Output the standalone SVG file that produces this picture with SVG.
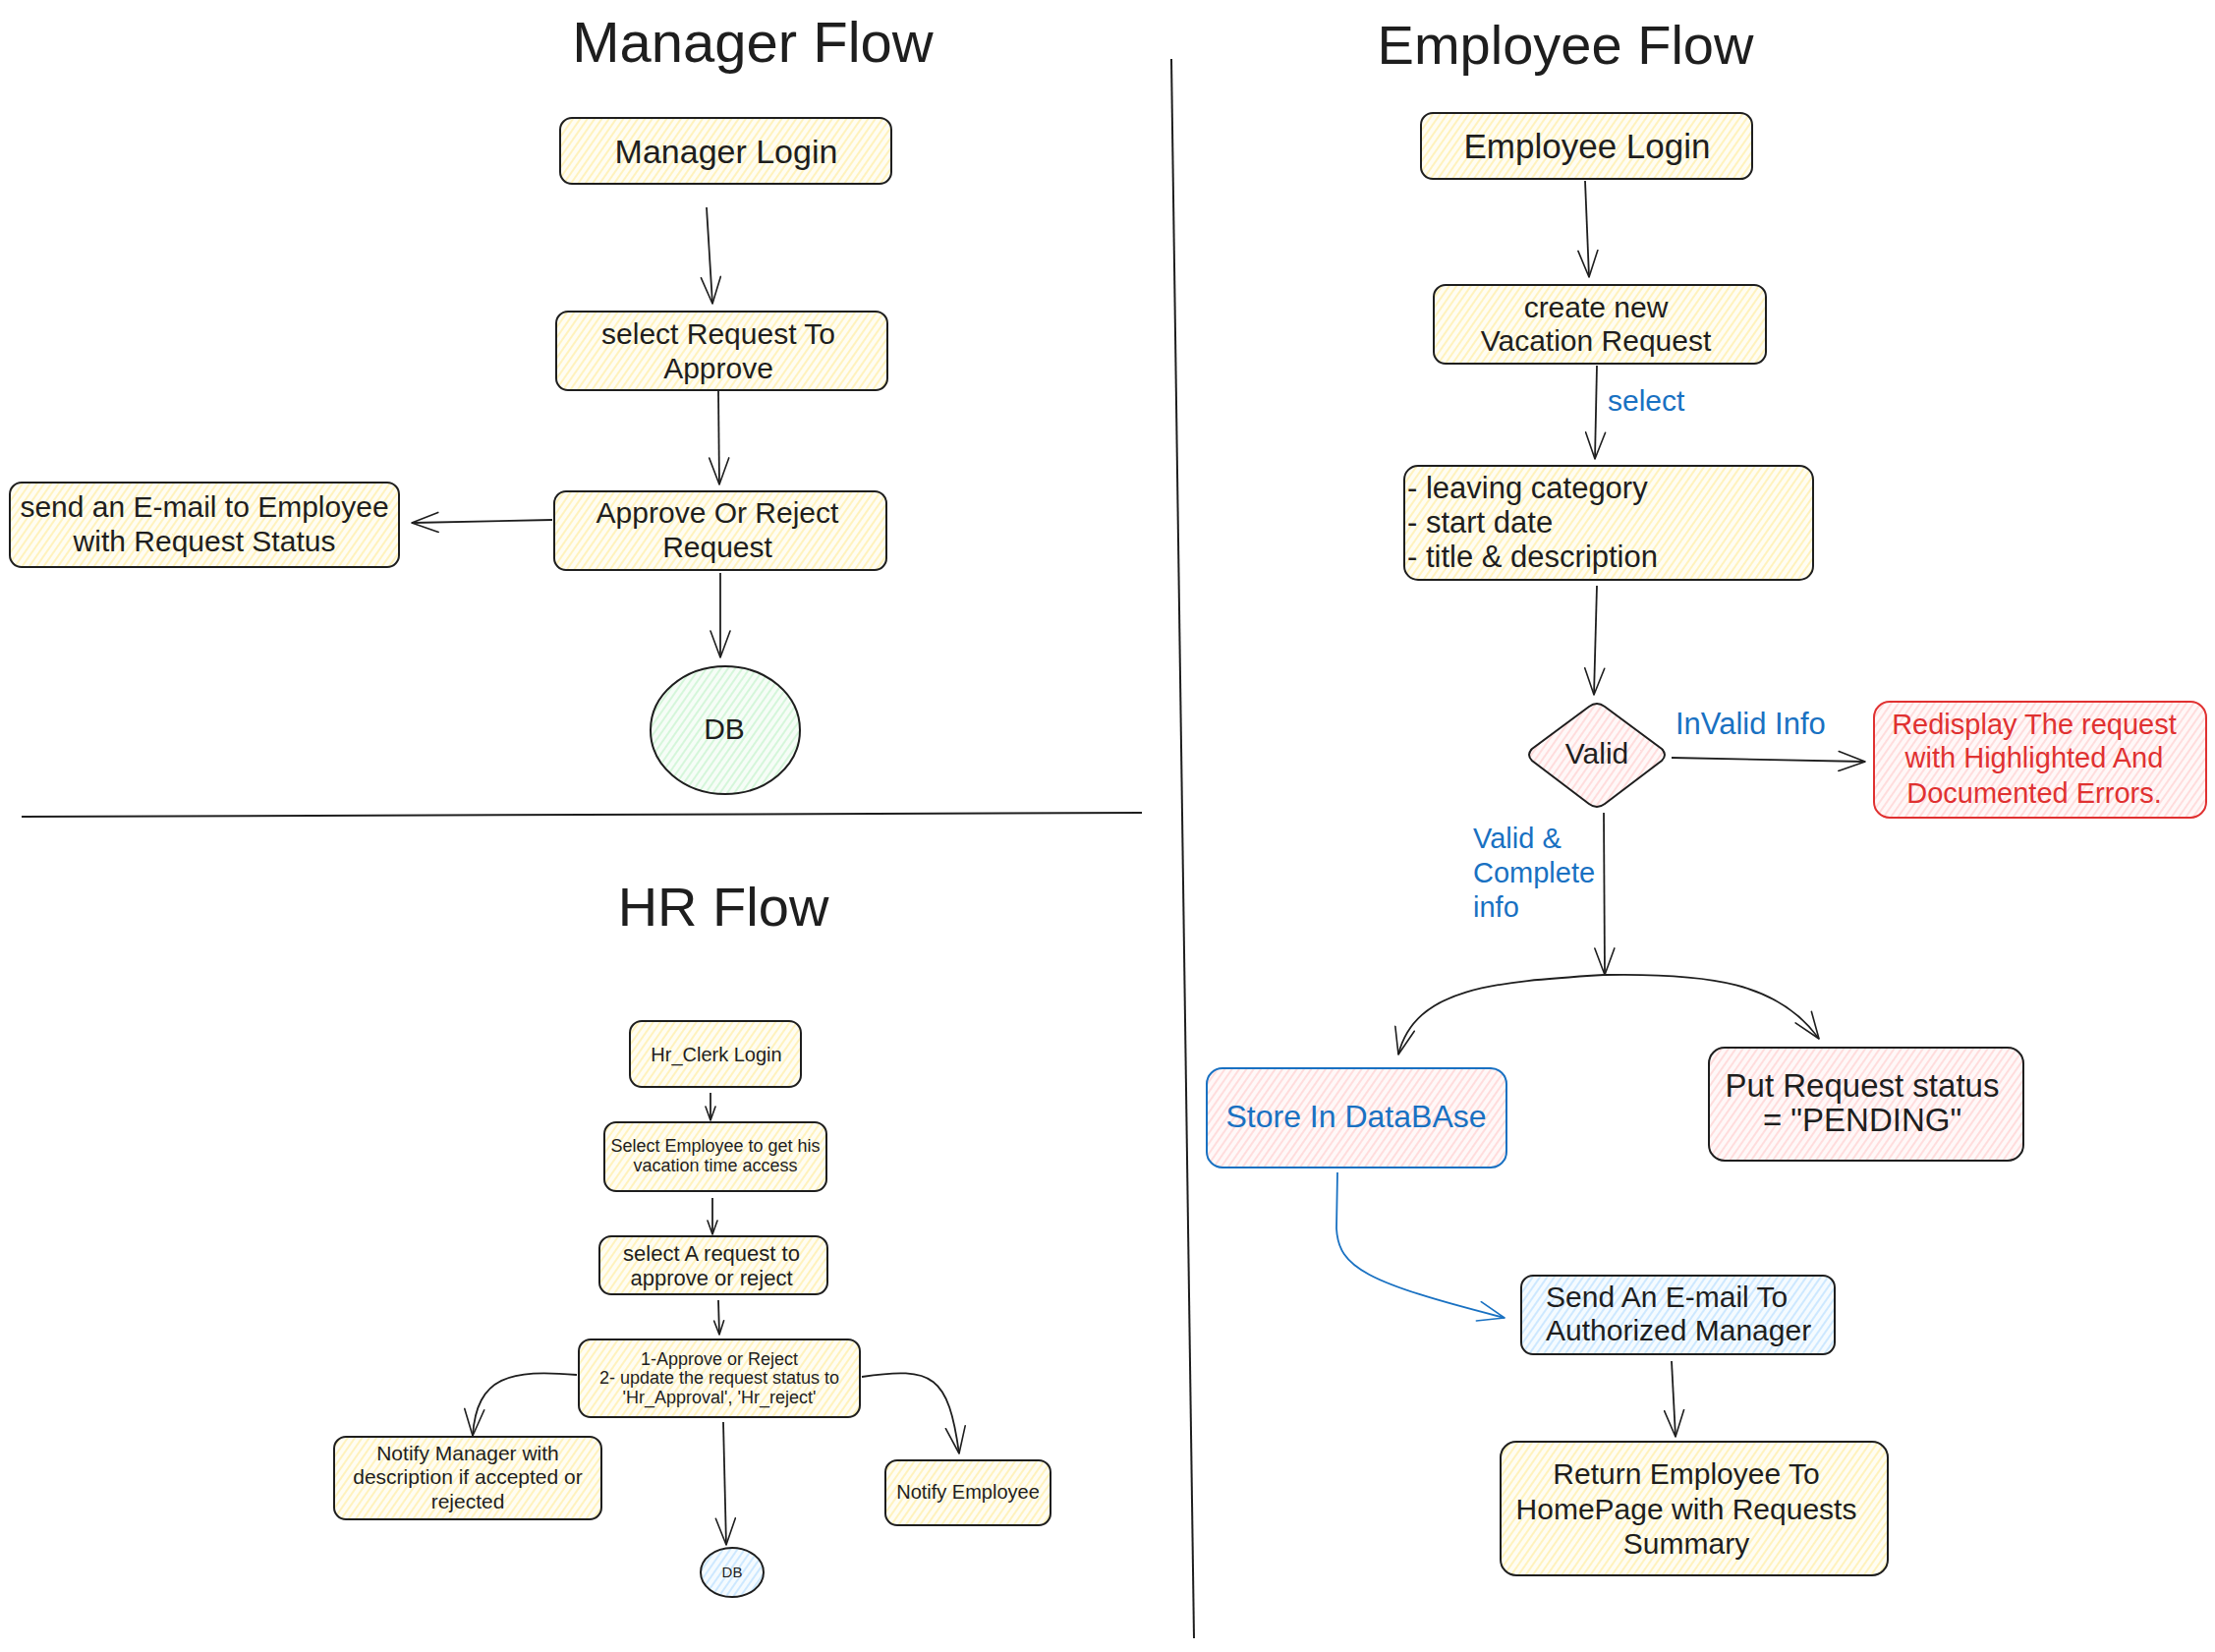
<svg xmlns="http://www.w3.org/2000/svg" width="2254" height="1681" viewBox="0 0 2254 1681">
<style>
.t{font-family:"Liberation Sans",Arial,sans-serif;fill:#1e1e1e}
.c{text-anchor:middle}
.tb{fill:#1971c2}
.tr{fill:#e03131}
.bx{stroke:#1e1e1e;stroke-width:2}
.fy{fill:url(#hy)}
.fr{fill:url(#hr)}
.fb{fill:url(#hb)}
.fg{fill:url(#hg)}
.ln{fill:none;stroke:#1e1e1e;stroke-width:1.8}
.lb{fill:none;stroke:#1971c2;stroke-width:1.8}
.div{fill:none;stroke:#1e1e1e;stroke-width:2}
.mk{fill:none;stroke:#1e1e1e;stroke-width:1.6;stroke-linejoin:round;stroke-linecap:round}
.mkb{fill:none;stroke:#1971c2;stroke-width:1.6;stroke-linejoin:round;stroke-linecap:round}
</style>
<defs>
<pattern id="hy" width="6" height="6" patternUnits="userSpaceOnUse" patternTransform="rotate(35)"><rect width="6" height="6" fill="#fffdf3"/><line x1="1" y1="0" x2="1" y2="6" stroke="#fff0b0" stroke-width="1.6"/></pattern>
<pattern id="hr" width="6" height="6" patternUnits="userSpaceOnUse" patternTransform="rotate(35)"><rect width="6" height="6" fill="#fff8f8"/><line x1="1" y1="0" x2="1" y2="6" stroke="#ffd6d6" stroke-width="1.6"/></pattern>
<pattern id="hb" width="6" height="6" patternUnits="userSpaceOnUse" patternTransform="rotate(35)"><rect width="6" height="6" fill="#f5fbff"/><line x1="1" y1="0" x2="1" y2="6" stroke="#c3e4ff" stroke-width="1.6"/></pattern>
<pattern id="hg" width="6" height="6" patternUnits="userSpaceOnUse" patternTransform="rotate(35)"><rect width="6" height="6" fill="#f6fdf7"/><line x1="1" y1="0" x2="1" y2="6" stroke="#cdf5d3" stroke-width="1.6"/></pattern>
<marker id="ab" viewBox="0 0 30 22" markerWidth="30" markerHeight="22" refX="28" refY="11" orient="auto" markerUnits="userSpaceOnUse"><path class="mk" d="M1,1 L28,11 L1,21"/></marker>
<marker id="as" viewBox="0 0 16 12" markerWidth="16" markerHeight="12" refX="15" refY="6" orient="auto" markerUnits="userSpaceOnUse"><path class="mk" d="M1,1 L15,6 L1,11"/></marker>
<marker id="abl" viewBox="0 0 30 22" markerWidth="30" markerHeight="22" refX="28" refY="11" orient="auto" markerUnits="userSpaceOnUse"><path class="mkb" d="M1,1 L28,11 L1,21"/></marker>
</defs>
<rect width="2254" height="1681" fill="#ffffff"/>

<g id="dividers">
<path class="div" d="M1192,60 L1215,1667"/>
<path class="div" d="M22,831 L1162,827"/>
</g>

<g id="titles">
<text class="t c" x="766" y="63" font-size="58">Manager Flow</text>
<text class="t c" x="1593" y="65" font-size="56">Employee Flow</text>
<text class="t c" x="736" y="942" font-size="56">HR Flow</text>
</g>

<g id="connectors">
<path class="ln" d="M719,211 L725,309" marker-end="url(#ab)"/>
<path class="ln" d="M731,398 L732,493" marker-end="url(#ab)"/>
<path class="ln" d="M562,529 L419,532" marker-end="url(#ab)"/>
<path class="ln" d="M733,583 L733,669" marker-end="url(#ab)"/>
<path class="ln" d="M1613,184 L1617,282" marker-end="url(#ab)"/>
<path class="ln" d="M1625,372 L1623,467" marker-end="url(#ab)"/>
<path class="ln" d="M1625,596 L1622,707" marker-end="url(#ab)"/>
<path class="ln" d="M1701,771 L1898,775" marker-end="url(#ab)"/>
<path class="ln" d="M1632,827 L1633,992" marker-end="url(#ab)"/>
<path class="ln" d="M1632,992 C1520,999 1440,1005 1423,1073" marker-end="url(#ab)"/>
<path class="ln" d="M1632,992 C1740,990 1810,1000 1851,1057" marker-end="url(#ab)"/>
<path class="lb" d="M1361,1193 L1360,1250 C1362,1290 1390,1305 1531,1341" marker-end="url(#abl)"/>
<path class="ln" d="M1701,1385 L1705,1462" marker-end="url(#ab)"/>
<path class="ln" d="M723,1112 L723,1140" marker-end="url(#as)"/>
<path class="ln" d="M725,1219 L725,1256" marker-end="url(#as)"/>
<path class="ln" d="M731,1323 L732,1358" marker-end="url(#as)"/>
<path class="ln" d="M587,1399 C520,1393 485,1400 481,1461" marker-end="url(#ab)"/>
<path class="ln" d="M877,1401 C950,1390 965,1400 976,1479" marker-end="url(#ab)"/>
<path class="ln" d="M736,1447 L739,1572" marker-end="url(#ab)"/>
</g>

<g id="edge-labels">
<text class="t tb" x="1636" y="418" font-size="30">select</text>
<text class="t tb" x="1705" y="747" font-size="31">InValid Info</text>
<text class="t tb" x="1499" y="863" font-size="29">Valid &amp;</text>
<text class="t tb" x="1499" y="898" font-size="29">Complete</text>
<text class="t tb" x="1499" y="933" font-size="29">info</text>
</g>

<g id="mgr-login">
<rect class="bx fy" x="570" y="120" width="337" height="67" rx="12"/>
<text class="t c" x="739" y="166" font-size="34">Manager Login</text>
</g>
<g id="mgr-select">
<rect class="bx fy" x="566" y="317" width="337" height="80" rx="12"/>
<text class="t c" x="731" y="350" font-size="30">select Request To</text>
<text class="t c" x="731" y="385" font-size="30">Approve</text>
</g>
<g id="mgr-approve">
<rect class="bx fy" x="564" y="500" width="338" height="80" rx="12"/>
<text class="t c" x="730" y="532" font-size="30">Approve Or Reject</text>
<text class="t c" x="730" y="567" font-size="30">Request</text>
</g>
<g id="mgr-email">
<rect class="bx fy" x="10" y="491" width="396" height="86" rx="12"/>
<text class="t c" x="208" y="526" font-size="30">send an E-mail to Employee</text>
<text class="t c" x="208" y="561" font-size="30">with Request Status</text>
</g>
<g id="mgr-db">
<ellipse class="bx fg" cx="738" cy="743" rx="76" ry="65"/>
<text class="t c" x="737" y="752" font-size="30">DB</text>
</g>

<g id="emp-login">
<rect class="bx fy" x="1446" y="115" width="337" height="67" rx="12"/>
<text class="t c" x="1615" y="161" font-size="35">Employee Login</text>
</g>
<g id="emp-create">
<rect class="bx fy" x="1459" y="290" width="338" height="80" rx="12"/>
<text class="t c" x="1624" y="323" font-size="30">create new</text>
<text class="t c" x="1624" y="357" font-size="30">Vacation Request</text>
</g>
<g id="emp-fields">
<rect class="bx fy" x="1429" y="474" width="416" height="116" rx="14"/>
<text class="t" x="1432" y="507" font-size="31">- leaving category</text>
<text class="t" x="1432" y="542" font-size="31">- start date</text>
<text class="t" x="1432" y="577" font-size="31">- title &amp; description</text>
</g>
<g id="emp-valid">
<path class="bx fr" d="M1617,719 Q1625,713 1633,719 L1691,762 Q1697,768 1691,774 L1633,818 Q1625,824 1617,818 L1559,774 Q1553,768 1559,762 Z"/>
<text class="t c" x="1625" y="777" font-size="30">Valid</text>
</g>
<g id="emp-redisplay">
<rect class="fr" x="1907" y="714" width="338" height="118" rx="16" stroke="#e03131" stroke-width="2"/>
<text class="t c tr" x="2070" y="747" font-size="29">Redisplay The request</text>
<text class="t c tr" x="2070" y="781" font-size="29">with Highlighted And</text>
<text class="t c tr" x="2070" y="817" font-size="29">Documented Errors.</text>
</g>
<g id="emp-store">
<rect class="fr" x="1228" y="1087" width="305" height="101" rx="16" stroke="#1971c2" stroke-width="2"/>
<text class="t c tb" x="1380" y="1147" font-size="32">Store In DataBAse</text>
</g>
<g id="emp-pending">
<rect class="bx fr" x="1739" y="1066" width="320" height="115" rx="16"/>
<text class="t c" x="1895" y="1116" font-size="33">Put Request status</text>
<text class="t c" x="1895" y="1151" font-size="33">= "PENDING"</text>
</g>
<g id="emp-send">
<rect class="bx fb" x="1548" y="1298" width="319" height="80" rx="12"/>
<text class="t" x="1573" y="1330" font-size="30">Send An E-mail To</text>
<text class="t" x="1573" y="1364" font-size="30">Authorized Manager</text>
</g>
<g id="emp-return">
<rect class="bx fy" x="1527" y="1467" width="394" height="136" rx="16"/>
<text class="t c" x="1716" y="1510" font-size="30">Return Employee To</text>
<text class="t c" x="1716" y="1546" font-size="30">HomePage with Requests</text>
<text class="t c" x="1716" y="1581" font-size="30">Summary</text>
</g>

<g id="hr-login">
<rect class="bx fy" x="641" y="1039" width="174" height="67" rx="12"/>
<text class="t c" x="729" y="1080" font-size="20">Hr_Clerk Login</text>
</g>
<g id="hr-select-emp">
<rect class="bx fy" x="615" y="1142" width="226" height="70" rx="12"/>
<text class="t c" x="728" y="1172" font-size="18">Select Employee to get his</text>
<text class="t c" x="728" y="1192" font-size="18">vacation time access</text>
</g>
<g id="hr-select-req">
<rect class="bx fy" x="610" y="1258" width="232" height="59" rx="12"/>
<text class="t c" x="724" y="1283" font-size="22">select A request to</text>
<text class="t c" x="724" y="1308" font-size="22">approve or reject</text>
</g>
<g id="hr-approve">
<rect class="bx fy" x="589" y="1363" width="286" height="79" rx="12"/>
<text class="t c" x="732" y="1389" font-size="18">1-Approve or Reject</text>
<text class="t c" x="732" y="1408" font-size="18">2- update the request status to</text>
<text class="t c" x="732" y="1428" font-size="18">'Hr_Approval', 'Hr_reject'</text>
</g>
<g id="hr-notify-mgr">
<rect class="bx fy" x="340" y="1462" width="272" height="84" rx="12"/>
<text class="t c" x="476" y="1486" font-size="21">Notify Manager with</text>
<text class="t c" x="476" y="1510" font-size="21">description if accepted or</text>
<text class="t c" x="476" y="1535" font-size="21">rejected</text>
</g>
<g id="hr-notify-emp">
<rect class="bx fy" x="901" y="1486" width="168" height="66" rx="12"/>
<text class="t c" x="985" y="1525" font-size="20">Notify Employee</text>
</g>
<g id="hr-db">
<ellipse class="bx fb" cx="745" cy="1600" rx="32" ry="25"/>
<text class="t c" x="745" y="1605" font-size="15">DB</text>
</g>
</svg>
